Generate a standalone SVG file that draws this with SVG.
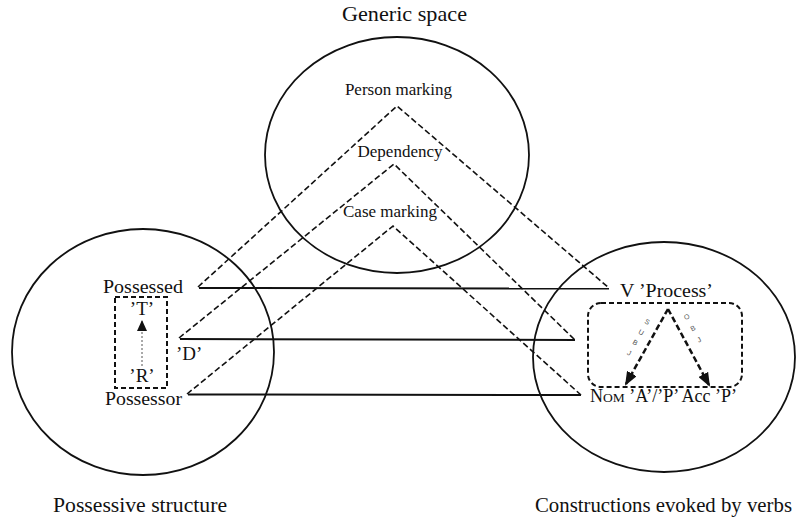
<svg xmlns="http://www.w3.org/2000/svg" width="803" height="519" viewBox="0 0 803 519">
  <style>
    text { font-family: 'Liberation Serif', 'DejaVu Serif', serif; }
    .t { fill: #111; }
    .circle { fill: none; stroke: #111; stroke-width: 1.8; }
    .dash { fill: none; stroke: #111; stroke-width: 1.6; stroke-dasharray: 6 3; }
    .solid { fill: none; stroke: #111; stroke-width: 2; }
    .box { fill: none; stroke: #111; stroke-width: 2; stroke-dasharray: 5 3; }
    .small { font-family: 'Liberation Sans', sans-serif; font-size: 7px; fill: #555; }
  </style>
  <defs>
    <marker id="ah" viewBox="0 0 14 11" refX="12" refY="5.5" markerWidth="14" markerHeight="11" markerUnits="userSpaceOnUse" orient="auto">
      <path d="M0,0 L14,5.5 L0,11 z" fill="#111"/>
    </marker>
    <marker id="ahs" viewBox="0 0 11 10" refX="10" refY="5" markerWidth="11" markerHeight="10" markerUnits="userSpaceOnUse" orient="auto">
      <path d="M0,0 L11,5 L0,10 z" fill="#111"/>
    </marker>
  </defs>
  <rect width="803" height="519" fill="#fff"/>

  <g id="generic-space" font-family="Liberation Serif, serif">
    <ellipse class="circle" cx="397" cy="155" rx="132" ry="118"/>
    <text class="t" font-family="Liberation Serif, serif" x="342" y="21" font-size="21" textLength="125" lengthAdjust="spacingAndGlyphs">Generic space</text>
    <text class="t" font-family="Liberation Serif, serif" x="398.5" y="95" font-size="17" text-anchor="middle">Person marking</text>
    <text class="t" font-family="Liberation Serif, serif" x="400" y="157" font-size="17" text-anchor="middle">Dependency</text>
    <text class="t" font-family="Liberation Serif, serif" x="390" y="217" font-size="17" text-anchor="middle">Case marking</text>
  </g>

  <g id="possessive-structure" font-family="Liberation Serif, serif">
    <ellipse class="circle" cx="143" cy="352" rx="131" ry="123"/>
    <text class="t" font-family="Liberation Serif, serif" x="103" y="293" font-size="19" textLength="80" lengthAdjust="spacingAndGlyphs">Possessed</text>
    <rect class="box" x="115" y="297" width="52" height="91"/>
    <text class="t" font-family="Liberation Serif, serif" x="142" y="315" font-size="19" text-anchor="middle">’T’</text>
    <line x1="142" y1="366" x2="142" y2="321" stroke="#555" stroke-width="1" stroke-dasharray="2 2" marker-end="url(#ahs)"/>
    <text class="t" font-family="Liberation Serif, serif" x="142" y="382" font-size="19" text-anchor="middle">’R’</text>
    <text class="t" font-family="Liberation Serif, serif" x="176" y="360" font-size="19">’D’</text>
    <text class="t" font-family="Liberation Serif, serif" x="105" y="405" font-size="19" textLength="77" lengthAdjust="spacingAndGlyphs">Possessor</text>
    <text class="t" font-family="Liberation Serif, serif" x="53" y="512" font-size="22" textLength="174" lengthAdjust="spacingAndGlyphs">Possessive structure</text>
  </g>

  <g id="constructions" font-family="Liberation Serif, serif">
    <ellipse class="circle" cx="664" cy="357" rx="131" ry="115"/>
    <text class="t" font-family="Liberation Serif, serif" x="620" y="297" font-size="19" textLength="93" lengthAdjust="spacingAndGlyphs">V ’Process’</text>
    <rect class="box" x="588" y="303" width="154" height="84" rx="13" ry="13"/>
    <line x1="668" y1="309" x2="626" y2="384" stroke="#111" stroke-width="2.5" stroke-dasharray="6 3" marker-end="url(#ah)"/>
    <line x1="668" y1="309" x2="709" y2="385" stroke="#111" stroke-width="2.5" stroke-dasharray="6 3" marker-end="url(#ah)"/>
    <g transform="translate(646,324) rotate(30)">
      <text class="small" font-family="Liberation Sans, sans-serif" x="0" y="0" text-anchor="middle">S</text>
      <text class="small" font-family="Liberation Sans, sans-serif" x="0" y="12" text-anchor="middle">U</text>
      <text class="small" font-family="Liberation Sans, sans-serif" x="0" y="24" text-anchor="middle">B</text>
      <text class="small" font-family="Liberation Sans, sans-serif" x="0" y="36" text-anchor="middle">J</text>
    </g>
    <g transform="translate(688,319) rotate(-28)">
      <text class="small" font-family="Liberation Sans, sans-serif" x="0" y="0" text-anchor="middle">O</text>
      <text class="small" font-family="Liberation Sans, sans-serif" x="0" y="13" text-anchor="middle">B</text>
      <text class="small" font-family="Liberation Sans, sans-serif" x="0" y="26" text-anchor="middle">J</text>
    </g>
    <text class="t" font-family="Liberation Serif, serif" x="590" y="402" font-size="18" textLength="147" lengthAdjust="spacingAndGlyphs">N<tspan font-size="13.5">OM</tspan> ’A’/’P’ Acc ’P’</text>
    <text class="t" font-family="Liberation Serif, serif" x="535" y="512" font-size="21.5" textLength="257" lengthAdjust="spacingAndGlyphs">Constructions evoked by verbs</text>
  </g>

  <g id="connectors">
    <polyline class="dash" points="198,287 397,106 609,288"/>
    <line class="solid" x1="199" y1="288" x2="609" y2="288.5"/>
    <polyline class="dash" points="179,338 394,164 575,340"/>
    <line class="solid" x1="180" y1="339" x2="575" y2="340"/>
    <polyline class="dash" points="187,394 393,226 581,395"/>
    <line class="solid" x1="188" y1="394.5" x2="581" y2="395"/>
  </g>
</svg>
